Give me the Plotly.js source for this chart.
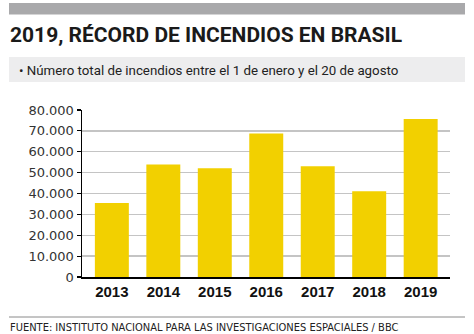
<!DOCTYPE html>
<html><head><meta charset="utf-8">
<script src="https://cdn.plot.ly/plotly-3.0.1.min.js"></script>
<style>html,body{margin:0;padding:0;background:#fff}#chart{width:474px;height:334px}</style>
</head><body><div id="chart"></div>
<script>
const years = ['2013', '2014', '2015', '2016', '2017', '2018', '2019'];
const fires = [35500, 53900, 52100, 68800, 53000, 41100, 75700];
const yTickVals = [0, 10000, 20000, 30000, 40000, 50000, 60000, 70000, 80000];
const yTickText = ['0', '10.000', '20.000', '30.000', '40.000', '50.000', '60.000', '70.000', '80.000'];
const titleText = '2019, RÉCORD DE INCENDIOS EN BRASIL';
const subtitleText = '• Número total de incendios entre el 1 de enero y el 20 de agosto';
const sourceText = 'FUENTE: INSTITUTO NACIONAL PARA LAS INVESTIGACIONES ESPACIALES / BBC';

const W = 474, H = 334;
const M = {l: 82, r: 24, t: 110, b: 57};
const PW = W - M.l - M.r, PH = H - M.t - M.b;
const px = x => (x - M.l) / PW;
const py = y => (H - M.b - y) / PH;

const shapes = [
  {type: 'rect', xref: 'paper', yref: 'paper', x0: px(9), x1: px(465), y0: py(3), y1: py(14.5), fillcolor: '#a9a9ab', line: {width: 0}, layer: 'below'},
  {type: 'rect', xref: 'paper', yref: 'paper', x0: px(9), x1: px(465), y0: py(57), y1: py(82), fillcolor: '#ededee', line: {width: 0}, layer: 'below'},
  {type: 'line', xref: 'paper', yref: 'paper', x0: px(9), x1: px(465), y0: py(317), y1: py(317), line: {color: '#8a8a8a', width: 1}}
];

const annotations = [
  {xref: 'paper', yref: 'paper', x: px(8), y: py(35), xanchor: 'left', yanchor: 'middle', showarrow: false,
   text: '<b>' + titleText + '</b>', font: {family: 'Roboto, Liberation Sans, sans-serif', size: 21, color: '#1a1a1a', weight: 900}},
  {xref: 'paper', yref: 'paper', x: px(17), y: py(70), xanchor: 'left', yanchor: 'middle', showarrow: false,
   text: subtitleText, font: {family: 'Roboto, sans-serif', size: 13.3, color: '#222'}},
  {xref: 'paper', yref: 'paper', x: px(8), y: py(327.5), xanchor: 'left', yanchor: 'middle', showarrow: false,
   text: sourceText, font: {family: 'Liberation Sans Narrow, DejaVu Sans Condensed, sans-serif', size: 11, color: '#222'}}
];

const data = [{
  type: 'bar', x: years, y: fires, width: 0.66,
  marker: {color: '#f2d000'}, hoverinfo: 'none'
}];

const layout = {
  width: W, height: H,
  margin: M,
  paper_bgcolor: '#fff', plot_bgcolor: '#fff',
  showlegend: false,
  xaxis: {
    type: 'category', range: [-0.58, 6.57], fixedrange: true,
    showline: true, linecolor: '#000', linewidth: 1.5, ticks: '',
    tickfont: {family: 'Liberation Sans, Arial, sans-serif', size: 15, color: '#111', weight: 'bold'},
    showgrid: false, zeroline: false
  },
  yaxis: {
    range: [0, 80000], fixedrange: true,
    tickvals: yTickVals, ticktext: yTickText,
    showline: true, linecolor: '#000', linewidth: 1.5,
    ticks: 'outside', ticklen: 4, tickwidth: 1.2, tickcolor: '#000',
    tickfont: {family: 'DejaVu Sans, sans-serif', size: 13, color: '#333'},
    showgrid: true, gridcolor: '#c4c4c4', gridwidth: 1.3, zeroline: false
  },
  shapes: shapes,
  annotations: annotations
};

Plotly.newPlot('chart', data, layout, {displayModeBar: false, staticPlot: true});
</script></body></html>
